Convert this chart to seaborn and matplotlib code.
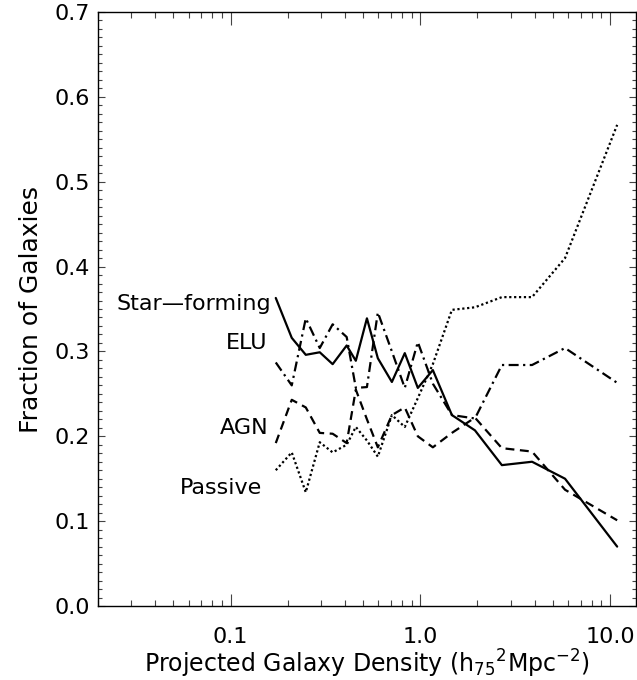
import numpy as np
import pandas as pd
import matplotlib
matplotlib.use("Agg")
import matplotlib.pyplot as plt
import seaborn as sns
from matplotlib.ticker import FixedLocator, LogLocator, MultipleLocator, NullFormatter

density = [0.173, 0.210, 0.249, 0.295, 0.345, 0.409, 0.457, 0.523, 0.597, 0.708,
           0.828, 0.970, 1.164, 1.467, 1.94, 2.69, 3.88, 5.79, 10.9]
star_forming = [0.363, 0.316, 0.296, 0.299, 0.285, 0.307, 0.289, 0.339, 0.292, 0.264,
                0.298, 0.257, 0.278, 0.225, 0.207, 0.166, 0.170, 0.150, 0.070]
elu = [0.287, 0.260, 0.339, 0.304, 0.332, 0.317, 0.257, 0.258, 0.346, 0.300,
       0.257, 0.311, 0.262, 0.225, 0.221, 0.284, 0.284, 0.304, 0.263]
agn = [0.192, 0.243, 0.234, 0.204, 0.203, 0.192, 0.255, 0.220, 0.187, 0.225,
       0.234, 0.200, 0.187, 0.204, 0.222, 0.186, 0.182, 0.137, 0.101]
passive = [0.160, 0.181, 0.134, 0.193, 0.181, 0.190, 0.211, 0.195, 0.176, 0.225,
           0.211, 0.245, 0.285, 0.349, 0.352, 0.364, 0.364, 0.410, 0.567]

series_names = ["Star-forming", "ELU", "AGN", "Passive"]
label_texts = ["Star\u2014forming", "ELU", "AGN", "Passive"]
label_x = [0.164, 0.156, 0.158, 0.146]
label_y = [0.356, 0.310, 0.210, 0.139]

x_ticks = [0.1, 1.0, 10.0]
x_ticklabels = ["0.1", "1.0", "10.0"]
y_ticks = [0.0, 0.1, 0.2, 0.3, 0.4, 0.5, 0.6, 0.7]
y_ticklabels = ["0.0", "0.1", "0.2", "0.3", "0.4", "0.5", "0.6", "0.7"]

frames = []
for name, vals in zip(series_names, [star_forming, elu, agn, passive]):
    frames.append(pd.DataFrame({"density": density, "fraction": vals, "type": name}))
df = pd.concat(frames, ignore_index=True)

sns.set_style("ticks")
plt.rcParams["font.family"] = ["DejaVu Sans"]
plt.rcParams["text.color"] = "black"
plt.rcParams["axes.labelcolor"] = "black"
plt.rcParams["xtick.color"] = "black"
plt.rcParams["ytick.color"] = "black"

fig = plt.figure(figsize=(6.37, 6.8), dpi=100)
ax = fig.add_axes([98 / 637, 1 - 606 / 680, 538 / 637, 594 / 680])

dash_map = {"Star-forming": "", "ELU": (4.5, 2, 1, 2), "AGN": (4, 2.5), "Passive": (1, 1.2)}
sns.lineplot(data=df, x="density", y="fraction", hue="type", style="type",
             palette={n: "black" for n in series_names}, dashes=dash_map,
             estimator=None, sort=False, legend=False, linewidth=1.6, ax=ax)

ax.set_xscale("log")
ax.set_xlim(0.02, 13.7)
ax.set_ylim(0.0, 0.7)

ax.xaxis.set_major_locator(FixedLocator(x_ticks))
ax.set_xticklabels(x_ticklabels)
ax.xaxis.set_minor_locator(LogLocator(base=10, subs=np.arange(2, 10)))
ax.xaxis.set_minor_formatter(NullFormatter())
ax.yaxis.set_major_locator(FixedLocator(y_ticks))
ax.set_yticklabels(y_ticklabels)
ax.yaxis.set_minor_locator(MultipleLocator(0.01))

ax.tick_params(which="both", direction="in", top=True, right=True, color="#444444", width=0.8)
ax.tick_params(axis="x", which="major", length=9, pad=15, labelsize=16)
ax.tick_params(axis="x", which="minor", length=4.5)
ax.tick_params(axis="y", which="major", length=5, pad=6, labelsize=16)
ax.tick_params(axis="y", which="minor", length=3)

for s in ax.spines.values():
    s.set_linewidth(1.0)
    s.set_color("black")

ax.set_xlabel(r"Projected Galaxy Density (h$_{\mathregular{75}}$$^{\mathregular{2}}$Mpc$^{\mathregular{-2}}$)",
              fontsize=17, labelpad=1)
ax.set_ylabel("Fraction of Galaxies", fontsize=18, labelpad=8)

for txt, lx, ly in zip(label_texts, label_x, label_y):
    ax.text(lx, ly, txt, ha="right", va="center", fontsize=16)

fig.savefig("out.png", dpi=100)
